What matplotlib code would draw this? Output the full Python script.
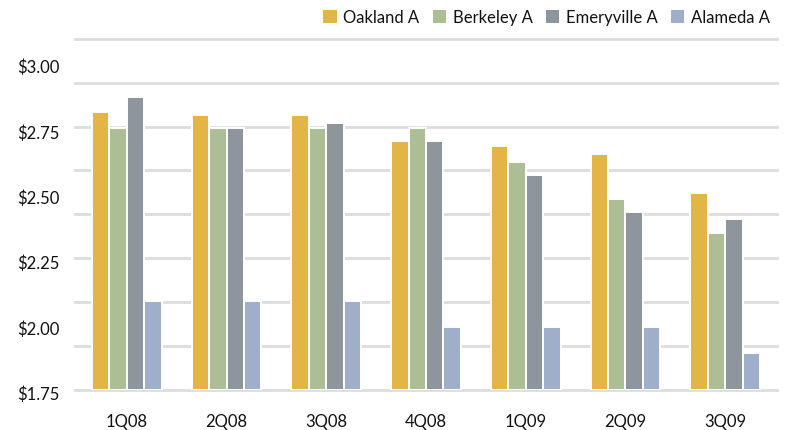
import numpy as np
import matplotlib.pyplot as plt
import matplotlib.transforms as mtransforms
from matplotlib.patches import Patch

plt.rcParams['font.family'] = ['Lato', 'DejaVu Sans']

quarters = ["1Q08", "2Q08", "3Q08", "4Q08", "1Q09", "2Q09", "3Q09"]
oakland = [2.81, 2.80, 2.80, 2.70, 2.68, 2.65, 2.50]
berkeley = [2.75, 2.75, 2.75, 2.75, 2.62, 2.48, 2.35]
emeryville = [2.87, 2.75, 2.77, 2.70, 2.57, 2.43, 2.40]
alameda = [2.09, 2.09, 2.09, 1.99, 1.99, 1.99, 1.89]
series_names = ["Oakland A", "Berkeley A", "Emeryville A", "Alameda A"]
colors = ["#E2B546", "#ADBD94", "#8E959C", "#9FAFCA"]
ytick_vals = [1.75, 2.00, 2.25, 2.50, 2.75, 3.00]

ymin, ymax = 1.75, 3.09

fig = plt.figure(figsize=(7.91, 4.31), dpi=100)
ax = fig.add_axes([75/791, 40.5/431, 702/791, 350.5/431])

x = np.arange(len(quarters))
w = 0.175
for i, (vals, c) in enumerate(zip([oakland, berkeley, emeryville, alameda], colors)):
    ax.bar(x + (i - 1.5)*w, np.array(vals) - ymin, bottom=ymin, width=w,
           color=c, edgecolor="white", linewidth=1.4, zorder=3)

# gridlines (evenly spaced, not aligned to the labels)
for g in np.linspace(ymin, ymax, 9):
    ax.axhline(g, color="#DDDDDD", linewidth=2, zorder=1, clip_on=False)

ax.set_xlim(-0.52, len(quarters) - 1 + 0.52)
ax.set_ylim(ymin, ymax)
ax.set_xticks(x)
ax.set_xticklabels(quarters, fontsize=12)
ax.set_yticks(ytick_vals)
ax.set_yticklabels([f"${v:.2f}" for v in ytick_vals], fontsize=12)
ax.tick_params(axis="both", length=0, colors="#111111")
ax.tick_params(axis="y", pad=11)
ax.tick_params(axis="x", pad=17)
off = mtransforms.ScaledTranslation(0, -3/100, fig.dpi_scale_trans)
for lbl in ax.get_yticklabels():
    lbl.set_transform(lbl.get_transform() + off)
for s in ax.spines.values():
    s.set_visible(False)

handles = [Patch(facecolor=c, edgecolor="none") for c in colors]
fig.legend(handles, series_names, loc="upper right", bbox_to_anchor=(780/791, 1.0),
           ncol=4, frameon=False, fontsize=12, handlelength=0.8, handleheight=0.8,
           handletextpad=0.4, columnspacing=0.8, borderaxespad=0.2,
           labelcolor="#111111")

fig.savefig("out.png", dpi=100)
